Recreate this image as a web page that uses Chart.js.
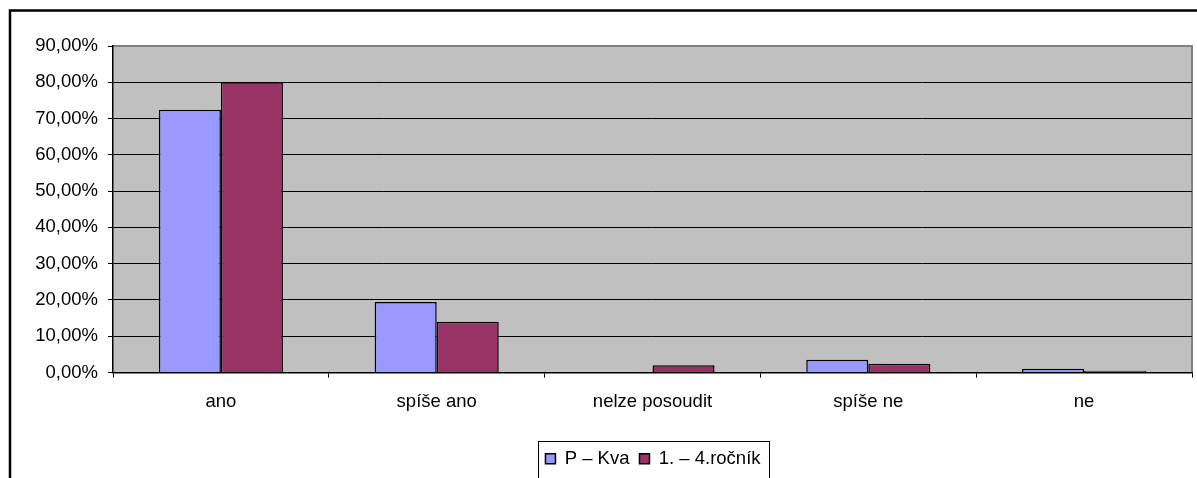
<!DOCTYPE html>
<html>
<head>
<meta charset="utf-8">
<script src="https://cdn.jsdelivr.net/npm/chart.js@4"></script>
<style>
  html, body { margin: 0; padding: 0; background: #fff; overflow: hidden; }
  #wrap { width: 1197px; height: 478px; position: relative; }
</style>
</head>
<body>
<div id="wrap"><canvas id="odpovediChart"></canvas></div>
<script>
// ----------------------- data --------------------------------
let kategorie = ['ano', 'spíše ano', 'nelze posoudit', 'spíše ne', 'ne'];
let pKva = [72.4, 19.4, 0, 3.5, 1.0];
let rocnik = [80.0, 14.0, 2.0, 2.4, 0.5];
let osaY = [0, 10, 20, 30, 40, 50, 60, 70, 80, 90];

const pismo = "'Liberation Sans', Arial, sans-serif";

// gray plot background + outer frame + legend frame
const pozadi = {
	id: 'pozadi',
	afterLayout(chart) {
		// legend sits a bit right of the canvas centre
		chart.legend.left += 114;
	},
	beforeDraw(chart) {
		const c = chart.ctx, a = chart.chartArea;
		c.save();
		c.fillStyle = '#c0c0c0';
		c.fillRect(a.left, a.top, a.right - a.left, a.bottom - a.top);
		c.strokeStyle = '#808080';
		c.lineWidth = 2;
		c.beginPath();
		c.moveTo(a.left, a.top);
		c.lineTo(a.right, a.top);
		c.lineTo(a.right, a.bottom);
		c.stroke();
		c.restore();
	},
	afterDraw(chart) {
		const c = chart.ctx;
		c.save();
		c.strokeStyle = '#000';
		c.lineWidth = 2.5;
		c.strokeRect(10, 10.5, 1300, 600);
		const boxes = chart.legend.legendHitBoxes;
		if (boxes && boxes.length) {
			let x1 = boxes[0].left;
			let last = boxes[boxes.length - 1];
			let x2 = last.left + last.width;
			let yc = boxes[0].top + boxes[0].height / 2;
			c.lineWidth = 1;
			c.strokeStyle = '#000';
			c.strokeRect(Math.round(x1 - 7) + 0.5, Math.round(yc - 18) + 0.5, Math.round(x2 - x1 + 16), 40);
		}
		c.restore();
	}
};

const ctx = document.querySelector('#odpovediChart').getContext('2d');

const barChart = new Chart(ctx, {
	type: 'bar',
	data: {
		labels: kategorie,
		datasets: [{
			label: 'P – Kva',
			data: pKva,
			backgroundColor: '#9999ff',
			borderColor: '#000',
			borderWidth: 1.5
		}, {
			label: '1. – 4.ročník',
			data: rocnik,
			backgroundColor: '#993366',
			borderColor: '#000',
			borderWidth: 1.5
		}]
	},
	options: {
		responsive: true,
		maintainAspectRatio: false,
		animation: false,
		layout: {
			padding: { left: 0, top: 46, right: 5, bottom: 0 }
		},
		datasets: {
			bar: { categoryPercentage: 0.575, barPercentage: 1 }
		},
		plugins: {
			tooltip: { enabled: false },
			legend: {
				position: 'bottom',
				labels: {
					color: '#000',
					font: { family: pismo, size: 18.5 },
					boxWidth: 10,
					boxHeight: 10,
					padding: 10
				}
			}
		},
		scales: {
			y: {
				min: 0,
				max: 90,
				afterBuildTicks: function(scale) {
					scale.ticks = osaY.map(function(v) { return { value: v }; });
				},
				afterFit: function(scale) { scale.width = 113; },
				border: { color: '#000', width: 1.5 },
				grid: {
					color: function(c) { return c.tick && c.tick.value === 90 ? '#808080' : '#000'; },
					tickColor: '#000',
					tickLength: 5,
					lineWidth: 1
				},
				ticks: {
					color: '#000',
					padding: 10,
					font: { family: pismo, size: 18.5 },
					callback: function(v) { return v.toFixed(2).replace('.', ',') + '%'; }
				}
			},
			x: {
				afterFit: function(scale) { scale.height = 67; },
				border: { color: '#000', width: 1.5 },
				grid: {
					offset: true,
					drawOnChartArea: false,
					tickColor: '#000',
					tickLength: 5
				},
				ticks: {
					color: '#000',
					padding: 13,
					font: { family: pismo, size: 18.5 }
				}
			}
		}
	},
	plugins: [pozadi]
});
</script>
</body>
</html>
